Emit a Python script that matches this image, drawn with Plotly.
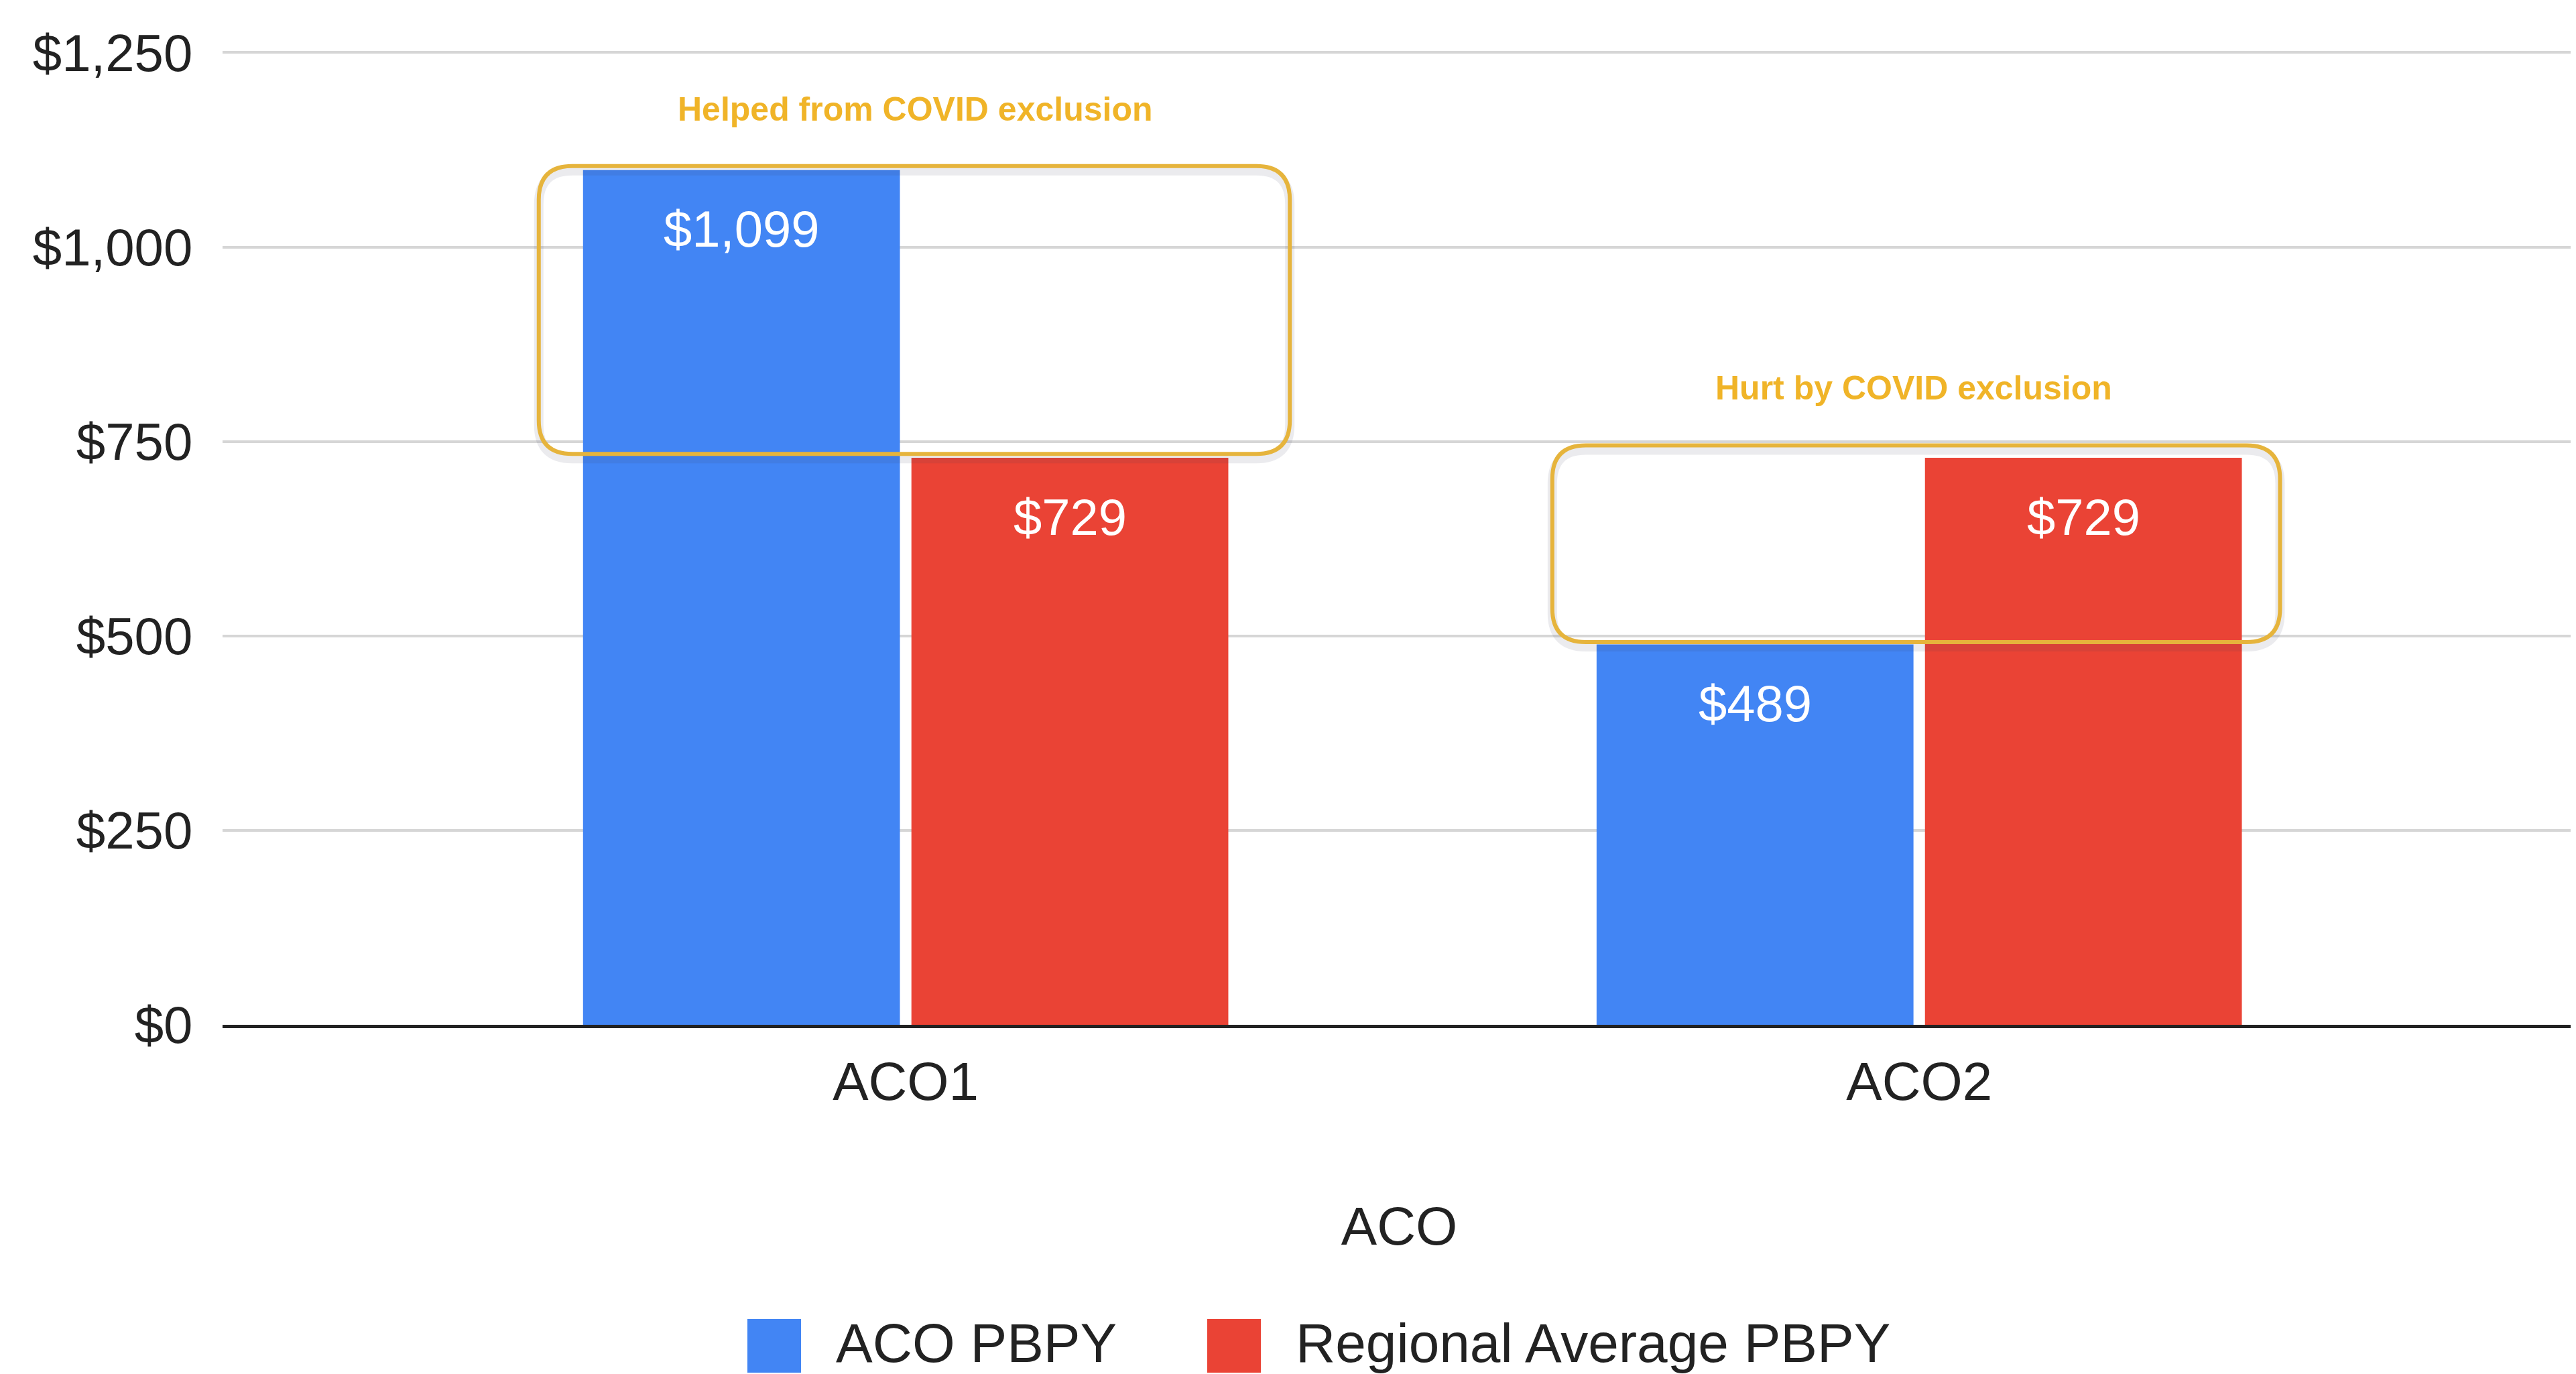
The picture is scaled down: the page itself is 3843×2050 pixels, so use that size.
import plotly.graph_objects as go

# ---------------- data ----------------
categories = ["ACO1", "ACO2"]
aco_pbpy = [1099, 489]
regional_avg_pbpy = [729, 729]
series_names = ["ACO PBPY", "Regional Average PBPY"]
series_colors = ["#4285F4", "#EA4335"]
y_tick_vals = [0, 250, 500, 750, 1000, 1250]
y_tick_text = ["$0", "$250", "$500", "$750", "$1,000", "$1,250"]
callout_texts = ["Helped from COVID exclusion", "Hurt by COVID exclusion"]
x_title = "ACO"

# ---------------- layout constants ----------------
# the page body has an 8px margin, so the figure is drawn 8px in from the window corner
W, H = 3835, 2042
L, R, T, B = 324, 0, 53, 521
X_RANGE = [-0.674, 1.648]
Y_RANGE = [0, 1265]
BARGAP = 0.352
BARGROUPGAP = 0.035
FONT = "Liberation Sans, Arial, sans-serif"
GOLD = "#E6B43C"
GOLD_TEXT = "#F0B428"
# callout box extents relative to the category centre / bar values
BOX_X = [(-0.362, 0.379), (-0.362, 0.356)]
BOX_PAD_TOP = [5, 16]
BOX_PAD_BOTTOM = [5, 3]
CALLOUT_XSHIFT = [14, -8]

px_per_x = (W - L - R) / (X_RANGE[1] - X_RANGE[0])
px_per_y = (H - T - B) / (Y_RANGE[1] - Y_RANGE[0])

series_values = [aco_pbpy, regional_avg_pbpy]

fig = go.Figure()
for name, vals, col in zip(series_names, series_values, series_colors):
    fig.add_trace(go.Bar(
        x=categories, y=vals, name=name,
        marker=dict(color=col, line=dict(width=0)),
        showlegend=False,
    ))

annotations = []
shapes = []

# value labels inside bars, near the top
slot = (1 - BARGAP) / 2
for s, vals in enumerate(series_values):
    off = (s - 0.5) * slot
    for i, v in enumerate(vals):
        annotations.append(dict(
            x=i + off, y=v, xref="x", yref="y",
            text=f"${v:,}", showarrow=False,
            yanchor="middle", yshift=-88,
            font=dict(family=FONT, size=76, color="white"),
        ))


def rounded_path(x0, x1, y0, y1, rx, ry):
    return (f"M {x0+rx},{y0} L {x1-rx},{y0} Q {x1},{y0} {x1},{y0+ry} "
            f"L {x1},{y1-ry} Q {x1},{y1} {x1-rx},{y1} L {x0+rx},{y1} "
            f"Q {x0},{y1} {x0},{y1-ry} L {x0},{y0+ry} Q {x0},{y0} {x0+rx},{y0} Z")


# callout boxes (rounded rectangles) + titles
rx = 50 / px_per_x
ry = 50 / px_per_y
for i, txt in enumerate(callout_texts):
    vals_here = [vals[i] for vals in series_values]
    x0, x1 = i + BOX_X[i][0], i + BOX_X[i][1]
    y0 = min(vals_here) + BOX_PAD_BOTTOM[i]
    y1 = max(vals_here) + BOX_PAD_TOP[i]
    sdy = 7 / px_per_y
    shapes.append(dict(type="path", path=rounded_path(x0, x1, y0 - sdy, y1 - sdy, rx, ry),
                       xref="x", yref="y",
                       line=dict(color="rgba(60,60,90,0.10)", width=14), layer="above"))
    shapes.append(dict(type="path", path=rounded_path(x0, x1, y0, y1, rx, ry),
                       xref="x", yref="y",
                       line=dict(color=GOLD, width=6), layer="above"))
    annotations.append(dict(
        x=i, y=y1, xref="x", yref="y", text=f"<b>{txt}</b>", showarrow=False,
        yanchor="middle", yshift=85, xshift=CALLOUT_XSHIFT[i],
        font=dict(family=FONT, size=50, color=GOLD_TEXT),
    ))

# manual legend (large square swatches)
leg_sq_y_px = 2000
leg_txt_y_px = 1995
leg_items_x_px = [1107, 1793]
sw = 80
plot_w = W - L - R
plot_h = H - T - B
for (name, col, xpx) in zip(series_names, series_colors, leg_items_x_px):
    shapes.append(dict(type="rect", xref="paper", yref="paper",
                       x0=(xpx - L) / plot_w, x1=(xpx + sw - L) / plot_w,
                       y0=(H - B - (leg_sq_y_px + sw / 2)) / plot_h,
                       y1=(H - B - (leg_sq_y_px - sw / 2)) / plot_h,
                       fillcolor=col, line=dict(width=0)))
    annotations.append(dict(
        x=(xpx + sw + 50 - L) / plot_w,
        y=(H - B - leg_txt_y_px) / plot_h,
        xref="paper", yref="paper", xanchor="left", yanchor="middle",
        text=name, showarrow=False,
        font=dict(family=FONT, size=82, color="#222222"),
    ))

fig.update_layout(
    width=W, height=H,
    margin=dict(l=L, r=R, t=T, b=B, pad=0, autoexpand=False),
    paper_bgcolor="white", plot_bgcolor="white",
    barmode="group", bargap=BARGAP, bargroupgap=BARGROUPGAP,
    font=dict(family=FONT, size=78, color="#222222"),
    showlegend=False,
    annotations=annotations, shapes=shapes,
    xaxis=dict(
        type="category", range=X_RANGE, automargin=False,
        showgrid=False, zeroline=False,
        showline=True, linecolor="#222222", linewidth=5,
        ticks="outside", ticklen=11, tickcolor="rgba(0,0,0,0)",
        tickfont=dict(family=FONT, size=80, color="#222222"),
        title=dict(text=x_title, standoff=145,
                   font=dict(family=FONT, size=80, color="#222222")),
    ),
    yaxis=dict(
        range=Y_RANGE, tickvals=y_tick_vals, ticktext=y_tick_text,
        automargin=False,
        showgrid=True, gridcolor="#D6D6D6", gridwidth=4,
        zeroline=False, showline=False,
        ticks="outside", ticklen=28, tickcolor="rgba(0,0,0,0)",
        tickfont=dict(family=FONT, size=78, color="#222222"),
    ),
)

fig.write_html("out.html")
